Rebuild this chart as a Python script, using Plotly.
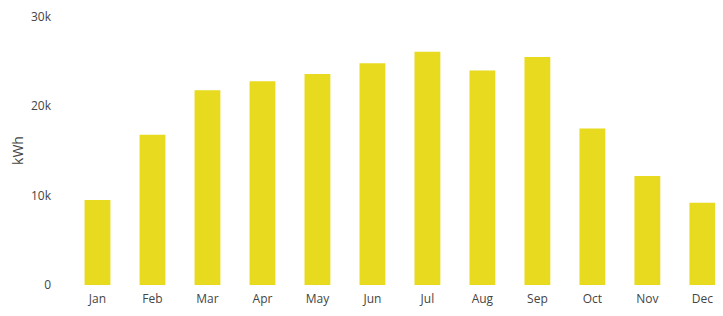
import plotly.graph_objects as go

months = ["Jan", "Feb", "Mar", "Apr", "May", "Jun", "Jul", "Aug", "Sep", "Oct", "Nov", "Dec"]
energy_kwh = [9500, 16800, 21800, 22800, 23600, 24800, 26100, 24000, 25500, 17500, 12200, 9200]
y_ticks = [0, 10000, 20000, 30000]
y_tick_labels = ["0", "10k", "20k", "30k"]

fig = go.Figure(
    go.Bar(x=months, y=energy_kwh, marker=dict(color="#e8da1e", line=dict(width=0)))
)

fig.update_layout(
    width=707,
    height=300,
    margin=dict(l=62, r=0, t=8, b=23, autoexpand=False),
    paper_bgcolor="white",
    plot_bgcolor="white",
    bargap=0.53,
    showlegend=False,
    font=dict(family="Open Sans", size=12, color="#444"),
)
fig.update_xaxes(
    range=[-0.5, 11.23],
    showgrid=False,
    showline=False,
    zeroline=False,
    ticks="",
    ticklabelstandoff=5,
    automargin=False,
)
fig.update_yaxes(
    range=[0, 30100],
    tickvals=y_ticks,
    ticktext=y_tick_labels,
    showgrid=False,
    zeroline=False,
    showline=False,
    ticks="",
    ticklabelstandoff=18,
    automargin=False,
    title=dict(text="kWh", standoff=5),
)

fig.write_html("out.html")
